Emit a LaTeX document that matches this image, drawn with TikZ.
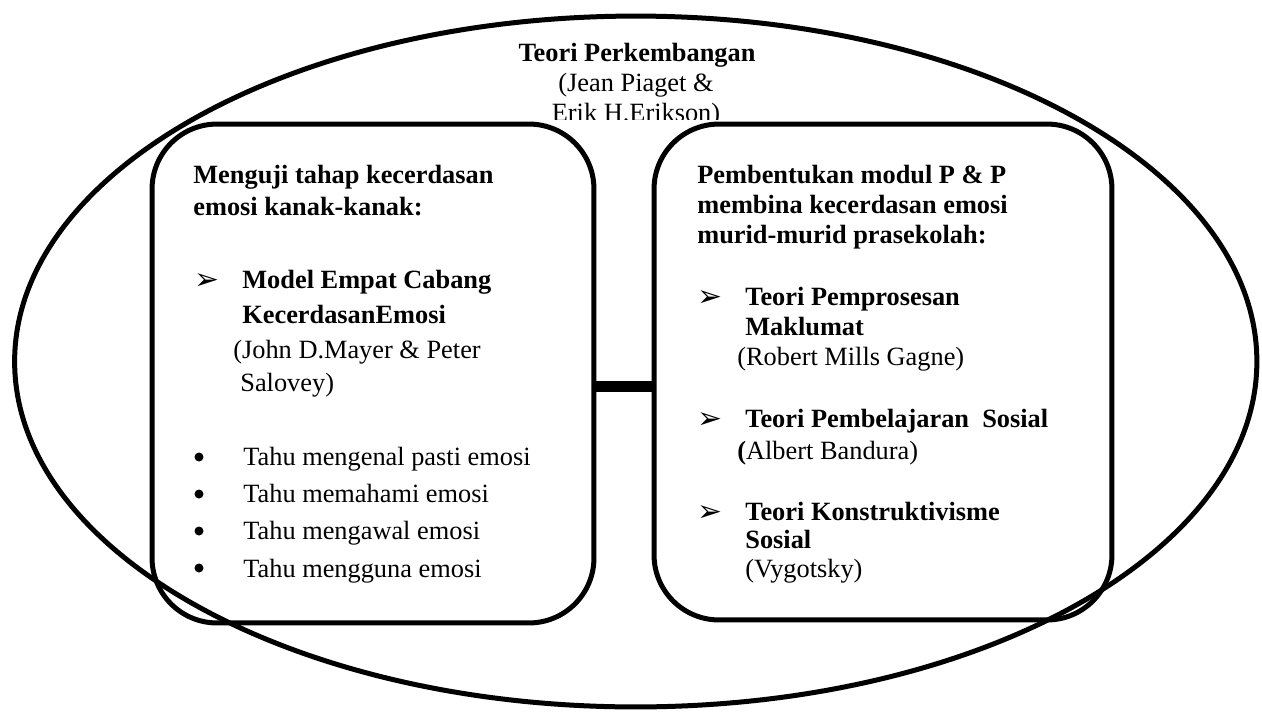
\documentclass[tikz,border=0pt]{standalone}
\usepackage{fontspec}
\setmainfont{Liberation Serif}
\newfontfamily\dingfont{DejaVu Sans}

\newcommand{\txtsize}{\fontsize{15}{18}\selectfont}

\tikzset{
  box/.style={draw, line width=0.1cm, rounded corners=1.3cm},
  bar/.style={line width=0.22cm},
  tnode/.style={inner sep=0pt, anchor=base west, font=\txtsize},
  tbold/.style={tnode, font=\txtsize\bfseries},
  tcentre/.style={inner sep=0pt, anchor=base, font=\txtsize},
  arrowmark/.style={inner sep=0pt, anchor=base west, font=\dingfont\fontsize{17}{18}\selectfont},
  bulletdot/.style={circle, fill, inner sep=0pt, minimum size=0.18cm},
}

\begin{document}
\begin{tikzpicture}[x=0.02cm, y=-0.02cm]
  \useasboundingbox (0,0) rectangle (1262,711);

  % outer ellipse
  \coordinate (E) at (635.75,361.5);
  \draw[line width=0.1cm] (E) ellipse [x radius=12.425cm, y radius=6.91cm];

  % the two boxes
  \node[box, minimum width=8.84cm, minimum height=9.98cm] (lbox) at (373,373.5) {};
  \node[box, minimum width=9.16cm, minimum height=9.92cm] (rbox) at (883,372) {};

  % bar between the boxes
  \coordinate (barL) at ([yshift=-0.26cm]lbox.east);
  \draw[bar] (barL) -- (barL -| rbox.west);

  % title, cut off by the text frame
  \begin{scope}
    \clip (400,0) rectangle (870,119.5);
    \node[tcentre, font=\txtsize\bfseries] (title) at (637,61) {Teori Perkembangan};
    \node[tcentre] (titleA) at (636,91) {(Jean Piaget \&};
    \node[tcentre] (titleB) at (636,121) {Erik H.Erikson)};
  \end{scope}

  % left box
  \node[tbold] (lhead1) at (193,183) {Menguji tahap kecerdasan};
  \node[tbold] (lhead2) at (193,215) {emosi kanak-kanak:};

  \node[arrowmark] (lmark) at (194,289) {➢};
  \node[tbold] (lmodel1) at (242,288) {Model Empat Cabang};
  \node[tbold] (lmodel2) at (242,323) {KecerdasanEmosi};
  \node[tnode] (lauth1) at (233,358) {(John D.Mayer \& Peter};
  \node[tnode] (lauth2) at (240,391.5) {Salovey)};

  % four skills
  \node[bulletdot] (b1) at (199,457) {};
  \node[tnode] (skill1) at (243,465) {Tahu mengenal pasti emosi};
  \node[bulletdot] (b2) at (199,494) {};
  \node[tnode] (skill2) at (243,502) {Tahu memahami emosi};
  \node[bulletdot] (b3) at (199,531) {};
  \node[tnode] (skill3) at (243,539.5) {Tahu mengawal emosi};
  \node[bulletdot] (b4) at (199,568) {};
  \node[tnode] (skill4) at (243,577) {Tahu mengguna emosi};

  % right box
  \node[tbold] (rhead1) at (697,183) {Pembentukan modul P \& P};
  \node[tbold] (rhead2) at (697,213) {membina kecerdasan emosi};
  \node[tbold] (rhead3) at (697,243) {murid-murid prasekolah:};

  \node[arrowmark] (rmark1) at (697,306) {➢};
  \node[tbold] (rteori1) at (745,305) {Teori Pemprosesan};
  \node[tbold] (rteori1b) at (745,335) {Maklumat};
  \node[tnode] (rauth1) at (737,365) {(Robert Mills Gagne)};

  \node[arrowmark] (rmark2) at (697,428) {➢};
  \node[tbold] (rteori2) at (745,427) {Teori Pembelajaran\ \ Sosial};
  \node[tnode] (rauth2) at (737,459) {{\bfseries(}Albert Bandura)};

  \node[arrowmark] (rmark3) at (697,521) {➢};
  \node[tbold] (rteori3) at (745,520) {Teori Konstruktivisme};
  \node[tbold] (rteori3b) at (745,548) {Sosial};
  \node[tnode] (rauth3) at (745,577) {(Vygotsky)};

\end{tikzpicture}
\end{document}
